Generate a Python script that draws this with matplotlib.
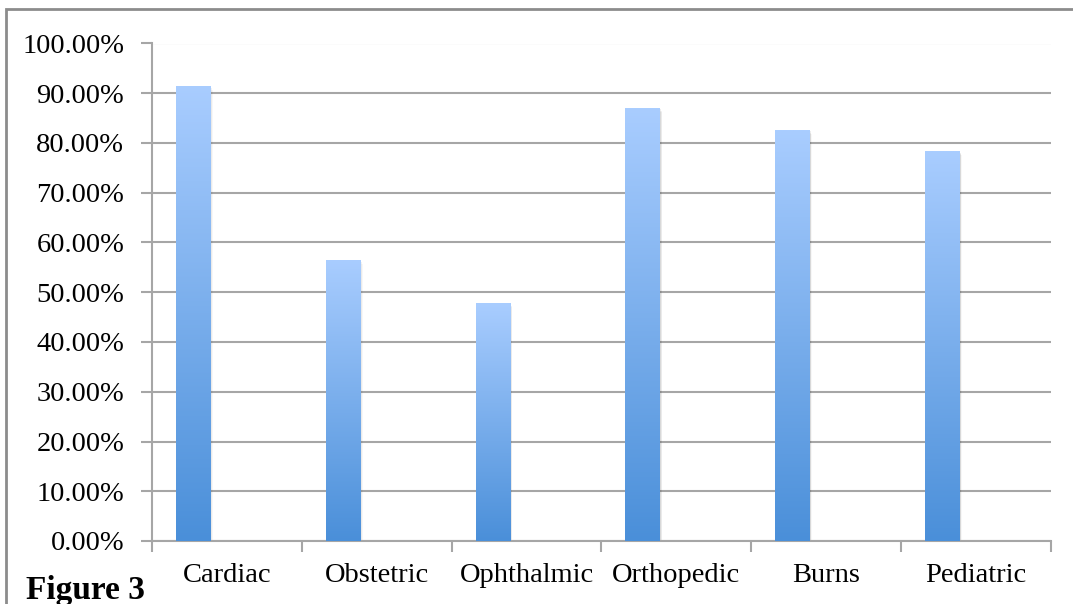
import matplotlib
matplotlib.use("Agg")
import matplotlib.pyplot as plt
from matplotlib.patches import Rectangle
from matplotlib.colors import LinearSegmentedColormap
import numpy as np

# data
categories = ["Cardiac", "Obstetric", "Ophthalmic", "Orthopedic", "Burns", "Pediatric"]
values = [91.5, 56.5, 47.8, 87.0, 82.6, 78.3]
yticks = [0, 10, 20, 30, 40, 50, 60, 70, 80, 90, 100]

plt.rcParams['font.family'] = ['Liberation Serif', 'DejaVu Serif']

fig = plt.figure(figsize=(10.73, 6.04), dpi=100)
ax = fig.add_axes([152/1073, 1-541/604, (1051-152)/1073, (541-43.5)/604])

grey = "#a6a6a6"
x = np.arange(len(categories))
bw = 0.233
bars = ax.bar(x - 0.5 + 0.16, values, width=bw, align="edge",
              color="none", edgecolor="none", zorder=3)

cmap = LinearSegmentedColormap.from_list("g", ["#4a8fd9", "#a9cdff"])
grad = np.linspace(0, 1, 256).reshape(-1, 1)
for b in bars:
    x0, y0 = b.get_x(), b.get_y()
    w, h = b.get_width(), b.get_height()
    # soft shadow
    for k, a in enumerate([0.07, 0.05, 0.03]):
        ax.add_patch(Rectangle((x0 + 0.004 * (k + 1), y0), w, h - 0.25 * (k + 1),
                               facecolor="black", alpha=a, edgecolor="none", zorder=2))
    im = ax.imshow(grad, extent=[x0, x0 + w, y0, y0 + h], origin="lower",
                   cmap=cmap, aspect="auto", zorder=3)
    im.set_clip_path(b)

ax.set_xlim(-0.5, len(categories) - 0.5)
ax.set_ylim(0, 100)
ax.set_yticks(yticks)
ax.set_yticklabels(["%.2f%%" % v for v in yticks], fontsize=20.5)
ax.set_xticks(np.arange(-0.5, len(categories)))
ax.set_xticklabels([])
ax.set_xticks(x, minor=True)
ax.set_xticklabels(categories, minor=True, fontsize=20.5)
ax.tick_params(axis="x", which="minor", length=0, pad=16)
ax.tick_params(axis="x", which="major", length=8, width=1.5, color=grey, direction="out")
ax.tick_params(axis="y", length=8, width=1.5, color=grey, pad=12)

ax.grid(axis="y", color=grey, linewidth=1.5, zorder=0)
ax.set_axisbelow(True)
for s in ["top", "right"]:
    ax.spines[s].set_visible(False)
for s in ["left", "bottom"]:
    ax.spines[s].set_color(grey)
    ax.spines[s].set_linewidth(1.5)

# outer frame of the chart
fig.patches.append(Rectangle((6/1073, -0.1), 1.2, 1 - 9/604 + 0.1, transform=fig.transFigure,
                             facecolor="none", edgecolor="#8c8c8c", linewidth=2))

fig.text(26/1073, 1 - 599/604, "Figure 3", fontsize=24, fontweight="bold", ha="left", va="baseline")

fig.savefig("out.png", dpi=100)
